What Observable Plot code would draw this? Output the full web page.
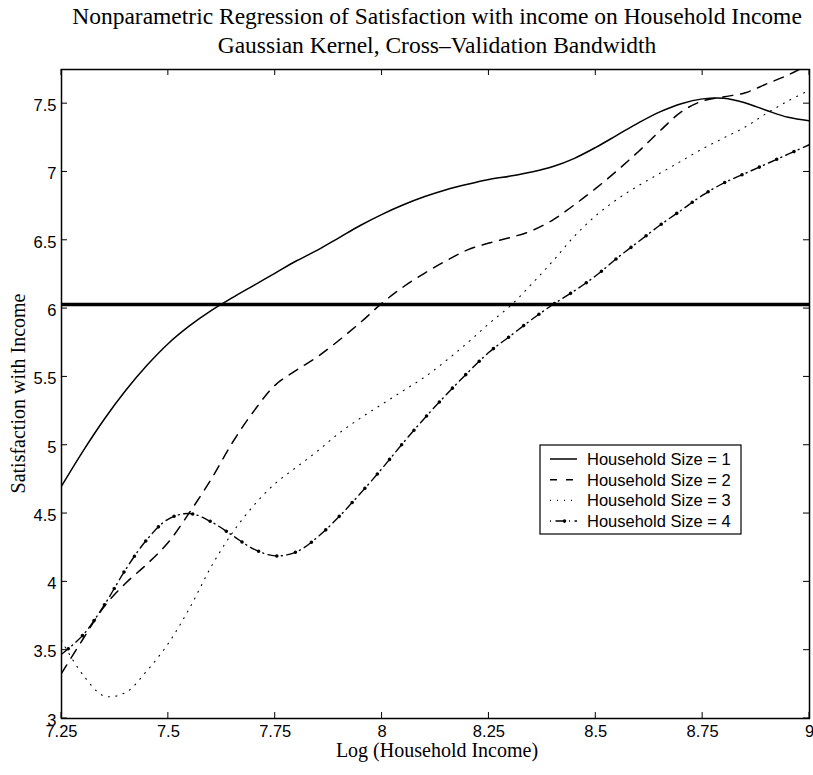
<!DOCTYPE html>
<html><head><meta charset="utf-8">
<script src="https://cdn.jsdelivr.net/npm/d3@7"></script>
<script src="https://cdn.jsdelivr.net/npm/@observablehq/plot@0.6"></script>
<style>body{margin:0;background:#fff} svg{display:block}</style>
</head><body><div id="chart"></div>
<script>
// ---------- data ----------
const incomeGrid = [7.25,7.30,7.35,7.40,7.45,7.50,7.55,7.60,7.65,7.70,7.75,7.80,7.85,7.90,7.95,8.00,8.05,8.10,8.15,8.20,8.25,8.30,8.35,8.40,8.45,8.50,8.55,8.60,8.65,8.70,8.75,8.80,8.85,8.90,8.95,9.00];
const size1 = [4.70,4.955,5.19,5.40,5.585,5.745,5.875,5.985,6.08,6.17,6.26,6.35,6.43,6.52,6.61,6.69,6.76,6.82,6.87,6.91,6.945,6.97,7.00,7.04,7.10,7.18,7.27,7.36,7.44,7.50,7.535,7.54,7.505,7.45,7.40,7.375];
const size2 = [3.33,3.58,3.82,3.99,4.13,4.29,4.51,4.75,5.02,5.25,5.44,5.55,5.65,5.77,5.90,6.04,6.16,6.26,6.35,6.43,6.48,6.52,6.57,6.65,6.76,6.88,7.01,7.15,7.30,7.44,7.52,7.55,7.58,7.645,7.71,7.79];
const size3 = [3.57,3.32,3.165,3.19,3.35,3.55,3.81,4.11,4.36,4.56,4.72,4.84,4.96,5.09,5.20,5.30,5.40,5.50,5.62,5.75,5.89,6.02,6.18,6.35,6.53,6.68,6.80,6.90,6.99,7.08,7.17,7.25,7.33,7.43,7.52,7.60];
const size4 = [3.47,3.61,3.83,4.09,4.31,4.46,4.50,4.44,4.34,4.24,4.19,4.22,4.33,4.48,4.65,4.83,5.02,5.20,5.37,5.53,5.68,5.80,5.92,6.03,6.13,6.24,6.37,6.49,6.61,6.72,6.83,6.92,6.99,7.06,7.13,7.20];
const seriesLabels = ["Household Size = 1","Household Size = 2","Household Size = 3","Household Size = 4"];
const meanSatisfaction = [6.03];
const xTicks = [7.25,7.5,7.75,8,8.25,8.5,8.75,9];
const yTicks = [3,3.5,4,4.5,5,5.5,6,6.5,7,7.5];
const titleLines = ["Nonparametric Regression of Satisfaction with income on Household Income","Gaussian Kernel, Cross\u2013Validation Bandwidth"];
const xLabel = "Log (Household Income)";
const yLabel = "Satisfaction with Income";

// ---------- chart ----------
const rows = s => incomeGrid.map((x, i) => ({x, y: s[i]}));
const curve = "catmull-rom";
const lineStyles = [
  {strokeWidth: 1.5},
  {strokeWidth: 1.5, strokeDasharray: "10,8"},
  {strokeWidth: 1.1, strokeDasharray: "1,6.5"},
  {strokeWidth: 1.4, strokeDasharray: "9,4.5,1,4.5"}
];
const allSeries = [size1, size2, size3, size4];

const chart = Plot.plot({
  width: 813, height: 775,
  marginLeft: 61, marginRight: 4, marginTop: 69, marginBottom: 57,
  style: {fontFamily: "'Liberation Sans', Arial, sans-serif", fontSize: "16.5px", color: "#000", background: "#fff"},
  x: {domain: [7.25, 9]},
  y: {domain: [3, 7.75]},
  marks: [
    Plot.axisX({ticks: xTicks, tickSize: 0, tickPadding: 7, tickFormat: d => String(d), label: null}),
    Plot.axisY({ticks: yTicks, tickSize: 0, tickPadding: 5, dy: 2, tickFormat: d => String(d), label: null}),
    Plot.ruleY(meanSatisfaction, {stroke: "#000", strokeWidth: 3.5}),
    ...allSeries.map((s, i) => Plot.line(rows(s), {x: "x", y: "y", curve, clip: true, stroke: "#000", ...lineStyles[i]})),
    Plot.line(rows(size4), {x: "x", y: "y", curve, clip: true, stroke: "#000", strokeWidth: 3.6, strokeLinecap: "round", strokeDasharray: "0,19", strokeDashoffset: -9}),
    Plot.frame({stroke: "#000", strokeWidth: 1.5})
  ]
});
document.getElementById("chart").appendChild(chart);

// ---------- decorations ----------
const svg = d3.select(chart);
const sx = chart.scale("x"), sy = chart.scale("y");
const X0 = sx.apply(7.25), X1 = sx.apply(9), Y0 = sy.apply(3), Y1 = sy.apply(7.75);
const tk = 6;
const tg = svg.append("g").attr("stroke", "#000").attr("stroke-width", 1);
xTicks.forEach(t => {
  const x = sx.apply(t);
  tg.append("line").attr("x1", x).attr("x2", x).attr("y1", Y0).attr("y2", Y0 - tk);
  tg.append("line").attr("x1", x).attr("x2", x).attr("y1", Y1).attr("y2", Y1 + tk);
});
yTicks.forEach(t => {
  const y = sy.apply(t);
  tg.append("line").attr("y1", y).attr("y2", y).attr("x1", X0).attr("x2", X0 + tk);
  tg.append("line").attr("y1", y).attr("y2", y).attr("x1", X1).attr("x2", X1 - tk);
});

const serif = "'Liberation Serif', 'Times New Roman', serif";
const cx = (X0 + X1) / 2 + 2;
titleLines.forEach((t, i) => {
  svg.append("text").attr("x", cx).attr("y", 24 + i * 29).attr("text-anchor", "middle")
    .attr("font-family", serif).attr("font-size", 23.5).attr("fill", "#000").text(t);
});
svg.append("text").attr("x", cx).attr("y", 757).attr("text-anchor", "middle")
  .attr("font-family", serif).attr("font-size", 20).attr("fill", "#000").text(xLabel);
svg.append("text").attr("transform", `translate(25,${(Y0 + Y1) / 2}) rotate(-90)`).attr("text-anchor", "middle")
  .attr("font-family", serif).attr("font-size", 20).attr("fill", "#000").text(yLabel);

// legend
const lg = svg.append("g").attr("text-anchor", "start");
lg.append("rect").attr("x", 540).attr("y", 445).attr("width", 201).attr("height", 89)
  .attr("fill", "#fff").attr("stroke", "#000").attr("stroke-width", 1.2);
const legendDash = [null, "7,9", "1,6", "1,4.5,9,4.5"];
seriesLabels.forEach((lab, i) => {
  const cy = 459 + i * 20.7;
  const ln = lg.append("line").attr("x1", 550).attr("x2", 577).attr("y1", cy).attr("y2", cy)
    .attr("stroke", "#000").attr("stroke-width", i === 2 ? 1.1 : 1.5);
  if (legendDash[i]) ln.attr("stroke-dasharray", legendDash[i]);
  if (i === 3) {
    lg.append("line").attr("x1", 550).attr("x2", 577).attr("y1", cy).attr("y2", cy)
      .attr("stroke", "#000").attr("stroke-width", 3.6).attr("stroke-linecap", "round")
      .attr("stroke-dasharray", "0,30").attr("stroke-dashoffset", -14.5);
  }
  lg.append("text").attr("x", 587).attr("y", cy + 6).attr("text-anchor", "start")
    .attr("font-family", "'Liberation Sans', Arial, sans-serif")
    .attr("font-size", 16.5).attr("fill", "#000").text(lab);
});
</script>
</body></html>
